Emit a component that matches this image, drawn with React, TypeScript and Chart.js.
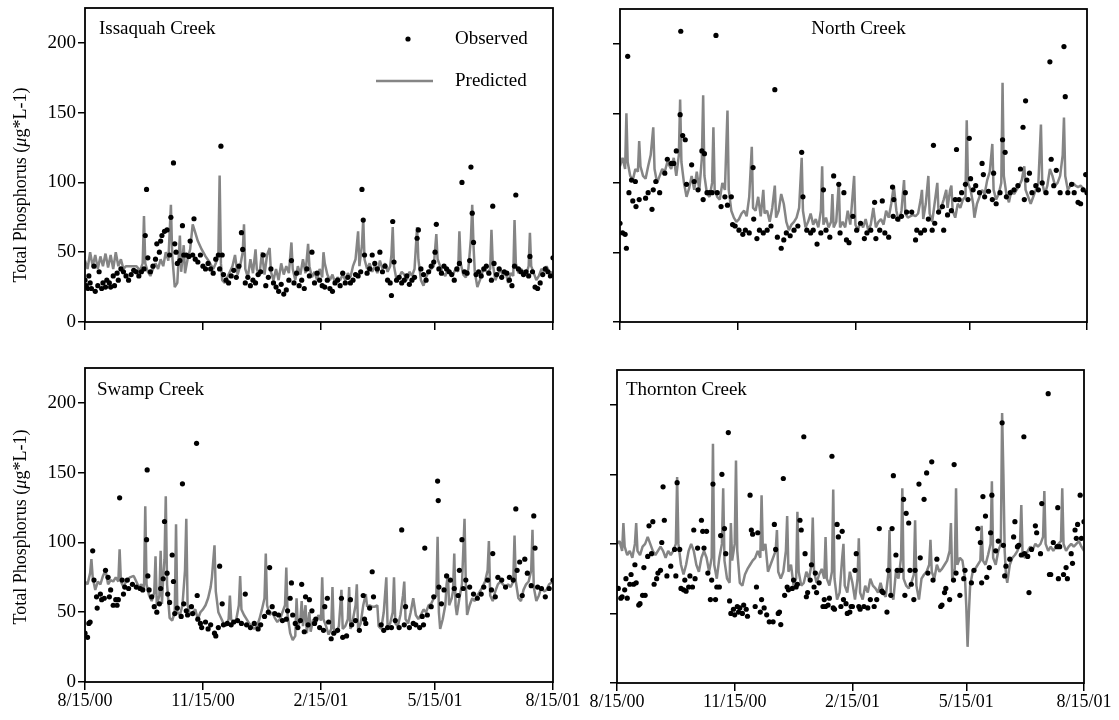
import React, { useEffect, useRef } from 'react';
import { Chart, registerables } from 'chart.js';

Chart.register(...registerables);

// ---------- axes ----------
const tickDays = [0, 92, 184, 273, 365];
const tickLabels = ['8/15/00', '11/15/00', '2/15/01', '5/15/01', '8/15/01'];
const yTicks = [0, 50, 100, 150, 200];
const panelNames = ['Issaquah Creek', 'North Creek', 'Swamp Creek', 'Thornton Creek'];
const seriesNames = ['Observed', 'Predicted'];
const yTitleParts = ['Total Phosphorus (', 'μ', 'g*L-1)'];

// ---------- data: [day since 8/15/00, µg/L] ----------
const issaquahObserved = [
  [0,30],[1,26],[2,24],[3,33],[4,28],[5,24],[7,40],[8,22],[10,26],[11,36],[13,24],[14,28],[16,25],[17,30],[19,28],[20,25],[22,33],[23,26],[25,35],[26,30],[28,38],[30,36],[32,33],[34,30],[36,34],[38,37],[40,36],[42,33],[44,36],[46,38],[47,62],[48,95],[49,46],[51,36],[53,40],[55,45],[56,56],[58,50],[59,58],[60,62],[62,65],[64,66],[66,48],[67,75],[69,114],[70,56],[71,50],[72,42],[74,44],[76,69],[77,48],[79,48],[81,47],[82,58],[84,48],[85,74],[86,45],[88,43],[90,48],[92,40],[94,38],[96,42],[98,38],[100,35],[102,45],[104,48],[105,38],[106,126],[107,48],[108,34],[110,30],[112,28],[114,33],[116,37],[118,32],[120,40],[122,64],[123,52],[125,28],[127,32],[129,26],[131,30],[133,28],[135,34],[137,36],[139,48],[141,26],[143,32],[145,38],[147,28],[149,25],[151,22],[153,27],[155,20],[157,23],[159,30],[161,44],[163,28],[165,35],[167,26],[169,30],[171,24],[173,38],[175,33],[177,50],[179,28],[181,35],[183,30],[185,26],[187,25],[189,30],[191,24],[193,22],[195,28],[197,30],[199,26],[201,35],[203,28],[205,32],[207,28],[209,30],[211,34],[213,33],[215,36],[216,95],[217,73],[218,48],[220,35],[222,38],[224,48],[226,42],[228,38],[230,50],[232,36],[234,40],[236,30],[238,28],[239,19],[240,72],[241,43],[243,30],[245,32],[247,28],[249,30],[251,33],[253,27],[255,30],[257,32],[259,60],[260,66],[262,38],[264,34],[266,30],[268,36],[270,40],[272,43],[273,50],[274,70],[276,38],[278,35],[280,40],[282,38],[284,36],[286,34],[288,30],[290,38],[292,42],[294,100],[296,36],[298,35],[300,44],[301,111],[302,78],[303,57],[305,34],[307,36],[309,33],[311,38],[313,40],[315,35],[317,30],[318,83],[319,42],[321,34],[323,38],[325,32],[327,36],[329,35],[331,30],[333,26],[335,40],[336,91],[338,38],[340,36],[342,34],[344,36],[346,33],[347,47],[349,36],[351,25],[353,24],[355,28],[357,34],[359,38],[361,36],[363,33],[365,46]
];
const issaquahPredicted = [
  [0,44],[2,38],[4,50],[6,40],[8,48],[10,38],[12,47],[14,40],[16,49],[18,39],[20,48],[22,38],[24,50],[26,40],[28,45],[30,38],[32,40],[36,40],[40,40],[43,37],[45,42],[46,76],[47,42],[49,36],[51,33],[53,38],[55,42],[57,38],[59,45],[61,40],[63,50],[65,44],[67,84],[68,48],[70,25],[72,28],[73,45],[74,62],[75,36],[77,55],[78,35],[80,45],[82,52],[84,70],[86,64],[88,58],[91,52],[94,47],[97,43],[100,38],[102,42],[104,48],[105,105],[106,42],[107,30],[109,28],[111,32],[113,36],[115,40],[117,48],[119,34],[121,40],[123,50],[124,70],[125,38],[127,32],[129,45],[131,35],[133,52],[134,38],[136,33],[138,50],[140,34],[142,48],[144,53],[145,36],[147,30],[149,38],[151,30],[153,42],[155,34],[157,40],[159,35],[161,57],[162,38],[164,30],[166,40],[168,34],[170,45],[172,35],[174,56],[175,40],[177,32],[179,36],[181,30],[183,38],[185,32],[186,50],[187,42],[189,34],[191,30],[193,34],[195,28],[197,32],[199,30],[201,34],[203,30],[205,35],[207,32],[209,40],[211,45],[213,65],[214,40],[216,55],[217,74],[218,45],[220,38],[222,42],[224,36],[226,40],[228,35],[230,44],[232,38],[234,42],[236,36],[238,40],[239,48],[240,68],[241,40],[243,30],[245,32],[247,36],[249,34],[251,30],[253,36],[255,33],[257,38],[259,68],[260,45],[262,30],[264,26],[266,32],[268,36],[270,38],[272,40],[274,63],[275,45],[277,40],[279,35],[281,33],[283,38],[285,36],[287,34],[289,38],[291,36],[292,65],[293,42],[295,34],[297,32],[299,38],[301,60],[302,84],[303,55],[304,36],[306,25],[308,30],[310,36],[312,38],[314,35],[316,38],[317,66],[318,42],[320,30],[322,34],[324,38],[326,33],[328,36],[330,28],[332,35],[334,33],[335,73],[336,42],[338,35],[340,38],[342,36],[344,34],[346,40],[347,64],[348,40],[350,35],[352,30],[354,33],[356,38],[358,36],[360,40],[362,36],[365,35]
];

const northObserved = [
  [0,71],[2,64],[4,63],[5,53],[6,191],[7,93],[9,102],[10,87],[12,101],[12.5,83],[15,88],[20,89],[22,93],[25,81],[26,95],[28,101],[31,93],[35,107],[37,117],[40,114],[42,114],[44,123],[47,149],[47.5,209],[49,134],[51,131],[52,99],[56,113],[58,101],[61,95],[64,123],[65,88],[66,121],[68,93],[70,93],[72,93],[75,206],[76,93],[79,83],[82,90],[84,84],[87,90],[88,70],[90,69],[93,66],[96,63],[98,66],[101,64],[104,111],[104.5,74],[107,60],[109,66],[112,64],[115,66],[118,69],[121,167],[123,61],[126,53],[128,59],[130,64],[133,62],[136,66],[139,69],[142,122],[143,90],[146,66],[149,64],[151,66],[154,56],[157,64],[159,95],[161,66],[164,61],[167,105],[171,99],[172,64],[175,93],[177,59],[179,57],[182,76],[185,66],[188,71],[191,60],[193,64],[196,66],[199,86],[200,60],[203,66],[205,87],[207,64],[210,61],[213,97],[213.5,76],[214,88],[217,74],[220,76],[223,93],[224,79],[228,79],[231,59],[232,66],[235,64],[238,66],[241,74],[244,66],[245,127],[246,71],[249,79],[252,83],[253,66],[256,77],[259,80],[262,88],[263,124],[265,88],[267,93],[270,99],[272,88],[273,132],[274,103],[276,95],[278,98],[281,93],[283,114],[284,106],[285,90],[288,94],[291,88],[292,107],[294,85],[297,93],[299,131],[301,122],[302,90],[305,93],[308,95],[311,98],[313,110],[315,140],[316,88],[317,159],[318,102],[320,107],[322,93],[325,98],[327,95],[330,100],[333,93],[336,187],[337,117],[339,98],[341,109],[344,93],[347,198],[348,162],[350,93],[353,99],[355,93],[358,86],[360,85],[362,95],[364,106],[365,93]
];
const northPredicted = [
  [0,112],[2,118],[4,110],[5,150],[6,115],[8,105],[10,102],[12,110],[14,108],[15,130],[16,112],[18,105],[20,103],[22,112],[24,120],[26,140],[27,110],[29,100],[31,105],[33,110],[35,108],[37,115],[40,110],[42,118],[44,105],[46,120],[47,160],[48,115],[50,100],[52,90],[54,96],[56,105],[58,95],[60,108],[62,95],[64,118],[65,163],[66,105],[68,92],[70,90],[72,100],[73,140],[74,95],[76,90],[78,88],[80,100],[82,95],[84,152],[85,95],[87,80],[89,75],[91,72],[93,74],[95,78],[97,80],[99,76],[101,90],[103,126],[104,82],[106,80],[108,90],[110,76],[112,95],[113,78],[115,80],[117,72],[119,82],[121,98],[122,75],[124,80],[126,92],[128,85],[130,72],[132,66],[134,70],[136,72],[138,75],[140,82],[142,118],[143,80],[145,68],[147,72],[149,78],[151,70],[153,74],[155,68],[157,80],[158,112],[159,70],[161,75],[163,68],[165,72],[166,92],[167,68],[169,72],[171,100],[172,68],[174,72],[176,68],[178,80],[180,70],[183,105],[184,70],[186,66],[188,72],[190,68],[192,74],[194,66],[196,70],[198,82],[200,68],[202,72],[204,74],[206,70],[208,80],[210,75],[212,85],[214,98],[216,80],[218,72],[220,80],[222,102],[223,78],[225,75],[227,76],[229,77],[231,76],[233,78],[235,88],[236,95],[237,74],[239,85],[241,105],[242,78],[244,72],[246,86],[248,100],[249,78],[251,82],[253,88],[255,95],[256,82],[258,95],[259,98],[260,80],[262,75],[264,85],[266,82],[268,88],[270,90],[271,145],[272,100],[274,95],[276,85],[277,75],[279,85],[281,90],[283,95],[285,92],[287,102],[289,108],[291,128],[292,95],[294,88],[296,92],[298,100],[299,172],[300,105],[302,92],[304,86],[306,95],[308,92],[310,95],[312,98],[314,102],[316,112],[317,95],[319,90],[321,85],[323,90],[325,95],[327,100],[329,142],[330,100],[332,92],[334,98],[336,110],[338,105],[340,98],[342,100],[344,105],[346,120],[347,147],[348,105],[350,95],[352,98],[354,100],[356,98],[358,97],[360,98],[362,96],[365,92]
];

const swampObserved = [
  [0,35],[2,32],[3,42],[4,43],[6,94],[7,73],[9,61],[9.5,53],[12,63],[13,59],[15,60],[16,80],[18,75],[19,61],[20,66],[22,55],[24,59],[25,55],[26,59],[27,132],[29,73],[30,63],[31,68],[33,73],[34,67],[37,70],[40,68],[43,67],[45,66],[48,102],[48.5,152],[49,76],[50,66],[52,61],[54,54],[56,50],[58,56],[59,67],[61,74],[62,115],[64,78],[64.5,63],[66,57],[68,91],[69,72],[70,49],[72,53],[75,47],[76,142],[77,56],[79,51],[80,48],[83,54],[84,49],[87,171],[87.5,62],[88,45],[90,42],[91,39],[94,43],[96,38],[98,41],[101,35],[102,33],[104,39],[105,83],[107,56],[108,41],[111,42],[114,41],[116,43],[119,44],[122,42],[125,63],[126,41],[129,39],[132,42],[135,38],[137,41],[140,47],[143,50],[144,82],[146,54],[148,49],[151,48],[154,44],[157,45],[158,51],[160,60],[161,71],[162,48],[164,42],[166,39],[168,44],[169,70],[171,36],[172,61],[174,41],[175,59],[177,51],[179,42],[180,45],[183,39],[186,37],[187,54],[189,60],[190,43],[192,31],[194,35],[197,37],[200,60],[201,32],[204,33],[207,59],[208,41],[211,44],[214,37],[217,62],[218,45],[219,42],[222,53],[224,79],[225,61],[231,41],[233,37],[236,39],[239,39],[242,44],[245,39],[247,109],[249,41],[250,54],[253,39],[256,42],[258,41],[261,39],[263,47],[264,41],[265,96],[267,48],[270,54],[272,61],[275,144],[275.5,130],[276,68],[278,56],[280,66],[282,76],[285,73],[288,67],[291,62],[292,80],[294,102],[295,67],[297,73],[300,68],[303,63],[306,60],[309,63],[311,68],[314,73],[317,66],[318,92],[320,61],[322,75],[325,73],[328,68],[331,75],[334,73],[336,124],[337,80],[339,86],[341,62],[343,88],[345,78],[348,69],[350,119],[351,96],[353,68],[356,67],[359,61],[362,67],[365,73]
];
const swampPredicted = [
  [0,72],[2,70],[4,78],[5,88],[6,75],[8,66],[10,72],[12,70],[14,76],[16,80],[18,70],[20,73],[22,72],[24,75],[26,72],[27,95],[28,72],[30,68],[32,72],[35,75],[38,76],[40,72],[42,68],[44,70],[46,66],[47,126],[48,70],[50,62],[52,58],[54,64],[55,90],[56,55],[58,62],[59,94],[60,56],[61,75],[62,88],[63,133],[64,70],[66,46],[68,44],[70,50],[71,113],[72,50],[74,48],[76,55],[78,80],[79,117],[80,55],[82,48],[84,50],[86,52],[88,45],[90,50],[92,52],[94,55],[96,60],[98,68],[99,75],[101,98],[102,65],[104,50],[106,46],[108,42],[110,40],[112,45],[113,62],[114,45],[116,42],[118,45],[120,55],[121,76],[122,52],[124,48],[126,45],[128,42],[130,40],[132,38],[134,40],[136,45],[138,52],[140,60],[141,92],[142,55],[144,48],[146,50],[148,46],[150,43],[152,45],[154,50],[156,55],[157,82],[158,48],[160,35],[162,30],[164,33],[165,60],[166,40],[168,45],[169,58],[170,40],[172,55],[173,35],[175,50],[176,36],[178,45],[180,42],[182,48],[184,44],[185,75],[186,45],[188,40],[190,34],[192,38],[193,68],[194,38],[196,35],[198,40],[200,66],[201,38],[203,40],[205,45],[206,68],[207,38],[209,45],[211,55],[212,70],[213,38],[215,42],[217,55],[219,63],[220,54],[222,55],[224,54],[226,54],[228,55],[229,40],[231,38],[233,50],[235,75],[236,40],[238,42],[240,50],[241,75],[242,42],[244,40],[246,48],[248,62],[249,72],[250,45],[252,42],[254,50],[256,60],[258,48],[260,45],[262,48],[264,52],[266,50],[268,55],[270,56],[272,60],[274,62],[275,104],[276,50],[277,38],[279,45],[281,55],[282,70],[283,77],[284,55],[286,60],[287,65],[288,92],[289,55],[290,48],[292,60],[294,70],[296,117],[297,70],[298,48],[300,55],[302,60],[304,58],[306,62],[308,65],[310,68],[312,72],[314,80],[315,101],[316,62],[318,58],[320,65],[322,70],[324,72],[326,70],[328,68],[330,70],[332,68],[334,72],[335,105],[336,72],[338,60],[340,58],[342,66],[344,70],[346,72],[348,80],[349,109],[350,68],[352,58],[354,62],[356,68],[358,65],[360,66],[362,70],[365,72]
];

const thorntonObserved = [
  [1,68],[3,61],[4,62],[6,67],[7,75],[8,61],[10,71],[11,78],[13,71],[14,85],[15,72],[17,56],[18,57],[20,63],[21,83],[22,63],[24,91],[25,113],[27,93],[28,116],[29,71],[31,75],[32,79],[34,81],[35,101],[36,141],[37,117],[39,77],[42,84],[45,96],[46,77],[47,144],[49,96],[50,68],[52,67],[53,74],[54,66],[56,69],[57,77],[59,69],[60,110],[61,75],[63,97],[66,117],[67,109],[68,97],[70,109],[71,79],[73,60],[74,74],[75,143],[77,60],[78,69],[80,69],[81,106],[82,150],[84,111],[85,93],[87,180],[88,59],[89,50],[91,53],[92,49],[94,55],[95,51],[96,54],[98,50],[99,56],[101,53],[102,48],[104,135],[105,110],[106,107],[108,55],[109,69],[110,108],[112,51],[113,60],[115,54],[117,49],[119,44],[122,44],[123,114],[124,96],[126,50],[127,51],[128,42],[130,147],[131,63],[133,69],[134,67],[137,68],[138,74],[140,69],[141,71],[143,117],[144,110],[146,177],[147,93],[148,62],[149,65],[151,74],[152,85],[154,69],[155,79],[156,65],[158,72],[161,55],[162,60],[163,55],[165,56],[166,61],[168,163],[169,54],[170,53],[172,114],[173,105],[175,55],[176,109],[177,60],[179,57],[180,50],[182,51],[183,55],[184,55],[186,81],[187,93],[189,55],[190,53],[193,55],[196,54],[198,60],[201,55],[203,60],[205,111],[207,66],[208,65],[211,51],[212,81],[214,63],[215,111],[216,149],[218,92],[219,81],[222,81],[224,132],[225,63],[226,122],[228,115],[229,81],[230,71],[232,60],[233,81],[236,143],[237,90],[240,132],[242,151],[243,79],[246,159],[247,74],[250,89],[253,55],[254,56],[256,65],[257,68],[260,60],[263,74],[263.5,157],[265,79],[268,63],[271,75],[272,81],[277,72],[279,81],[282,111],[284,101],[285,72],[286,134],[288,120],[289,76],[291,83],[292,108],[293,135],[296,95],[298,102],[301,187],[302,99],[303,77],[304,84],[307,89],[310,105],[311,116],[313,98],[314,99],[316,92],[318,177],[318.5,93],[321,91],[322,65],[324,96],[327,113],[328,108],[331,93],[332,129],[337,208],[338,78],[339,78],[341,101],[344,98],[344.5,126],[345,75],[346,98],[349,78],[351,83],[352,75],[355,93],[356,86],[358,110],[359,104],[360,114],[362,135],[363,104],[365,116]
];
const thorntonPredicted = [
  [0,100],[2,102],[4,95],[5,115],[6,98],[8,92],[10,95],[12,90],[14,100],[15,115],[16,95],[18,92],[20,98],[22,100],[24,105],[26,100],[28,95],[30,92],[32,95],[34,98],[36,95],[38,90],[40,95],[42,92],[44,95],[46,100],[47,148],[48,100],[50,85],[52,78],[54,85],[56,95],[58,100],[60,95],[62,85],[64,80],[66,90],[68,95],[70,90],[72,80],[74,90],[75,172],[76,85],[78,75],[80,90],[82,100],[83,140],[84,88],[86,75],[88,72],[89,115],[90,88],[92,100],[93,160],[94,95],[96,72],[98,70],[100,78],[102,82],[104,85],[106,88],[108,90],[110,95],[112,90],[113,135],[114,95],[116,100],[118,80],[120,85],[122,90],[124,95],[125,110],[126,80],[128,75],[130,80],[132,95],[133,120],[134,80],[136,85],[138,70],[140,75],[141,123],[142,80],[144,70],[146,72],[148,80],[150,75],[152,85],[153,119],[154,80],[156,72],[158,78],[160,82],[162,75],[163,105],[164,75],[166,70],[168,80],[169,139],[170,75],[172,60],[174,65],[176,90],[177,100],[178,70],[180,65],[182,80],[184,72],[186,60],[188,75],[189,104],[190,65],[192,60],[194,70],[196,65],[198,75],[200,70],[202,68],[204,65],[206,72],[208,65],[210,62],[212,78],[213,110],[214,65],[216,60],[218,80],[220,75],[222,90],[223,140],[224,75],[226,70],[228,68],[230,72],[232,78],[233,117],[234,70],[236,60],[238,75],[240,78],[242,80],[244,85],[245,103],[246,80],[248,75],[250,85],[252,80],[254,82],[256,85],[258,88],[260,95],[261,115],[262,75],[264,82],[265,140],[266,85],[268,90],[270,88],[272,75],[273,55],[274,26],[275,50],[276,70],[278,80],[280,82],[282,85],[284,88],[285,113],[286,88],[288,85],[290,92],[292,100],[293,145],[294,90],[296,85],[298,95],[300,100],[301,194],[302,150],[303,95],[304,78],[305,72],[307,85],[309,90],[311,92],[313,95],[315,100],[316,128],[317,92],[319,90],[321,95],[323,98],[325,96],[327,100],[329,98],[331,100],[333,105],[334,138],[335,100],[337,95],[339,98],[341,95],[343,98],[345,100],[347,102],[348,140],[349,100],[351,95],[353,98],[355,100],[357,98],[359,100],[361,102],[363,98],[365,95]
];

// ---------- styling ----------
const FONT = '"Liberation Serif", "Times New Roman", serif';
const W = 1119;
const H = 720;

type Panel = {
  name: string;
  observed: number[][];
  predicted: number[][];
  pad: { left: number; top: number; right: number; bottom: number };
  yWidth: number;
  xHeight: number;
  showYLabels: boolean;
  showXLabels: boolean;
  titleAlign: 'left' | 'center';
  titleDx: number;
  titleDy: number;
  legend: boolean;
  yTitleDy: number;
};

const panels: Panel[] = [
  { name: panelNames[0], observed: issaquahObserved, predicted: issaquahPredicted,
    pad: { left: 0, top: 8, right: W - 553, bottom: H - 340 }, yWidth: 85, xHeight: 18,
    showYLabels: true, showXLabels: false, titleAlign: 'left', titleDx: 14, titleDy: 21, legend: true, yTitleDy: 20 },
  { name: panelNames[1], observed: northObserved, predicted: northPredicted,
    pad: { left: 560, top: 9, right: W - 1087, bottom: H - 340 }, yWidth: 60, xHeight: 18,
    showYLabels: false, showXLabels: false, titleAlign: 'center', titleDx: 5, titleDy: 20, legend: false, yTitleDy: 0 },
  { name: panelNames[2], observed: swampObserved, predicted: swampPredicted,
    pad: { left: 0, top: 368, right: W - 553, bottom: 0 }, yWidth: 85, xHeight: 38,
    showYLabels: true, showXLabels: true, titleAlign: 'left', titleDx: 12, titleDy: 22, legend: false, yTitleDy: 2 },
  { name: panelNames[3], observed: thorntonObserved, predicted: thorntonPredicted,
    pad: { left: 560, top: 370, right: W - 1084, bottom: 0 }, yWidth: 57, xHeight: 37,
    showYLabels: false, showXLabels: true, titleAlign: 'left', titleDx: 9, titleDy: 20, legend: false, yTitleDy: 0 },
];

const decorPlugin = {
  id: 'decor',
  afterDraw(chart: any, _args: any, opts: any) {
    const { ctx, chartArea: a } = chart;
    ctx.save();
    ctx.strokeStyle = '#000';
    ctx.lineWidth = 1.8;
    ctx.strokeRect(a.left, a.top, a.right - a.left, a.bottom - a.top);
    ctx.fillStyle = '#000';
    ctx.font = `19px ${FONT}`;
    ctx.textBaseline = 'middle';
    if (opts.titleAlign === 'center') {
      ctx.textAlign = 'center';
      ctx.fillText(opts.title, (a.left + a.right) / 2 + opts.titleDx, a.top + opts.titleDy);
    } else {
      ctx.textAlign = 'left';
      ctx.fillText(opts.title, a.left + opts.titleDx, a.top + opts.titleDy);
    }
    if (opts.legend) {
      const lx = a.left;
      const ly = a.top;
      ctx.beginPath();
      ctx.arc(lx + 323, ly + 31, 2.6, 0, Math.PI * 2);
      ctx.fill();
      ctx.textAlign = 'left';
      ctx.fillText(seriesNames[0], lx + 370, ly + 31);
      ctx.strokeStyle = '#858585';
      ctx.lineWidth = 2.5;
      ctx.beginPath();
      ctx.moveTo(lx + 291, ly + 73);
      ctx.lineTo(lx + 348, ly + 73);
      ctx.stroke();
      ctx.fillText(seriesNames[1], lx + 370, ly + 73);
    }
    if (opts.yTitle) {
      const cy = (a.top + a.bottom) / 2 + opts.yTitleDy;
      ctx.translate(21, cy);
      ctx.rotate(-Math.PI / 2);
      const fN = `18px ${FONT}`;
      const fI = `italic 18px ${FONT}`;
      ctx.font = fN;
      const w0 = ctx.measureText(yTitleParts[0]).width;
      const w2 = ctx.measureText(yTitleParts[2]).width;
      ctx.font = fI;
      const w1 = ctx.measureText(yTitleParts[1]).width;
      let x = -(w0 + w1 + w2) / 2;
      ctx.textAlign = 'left';
      ctx.font = fN;
      ctx.fillText(yTitleParts[0], x, 0);
      x += w0;
      ctx.font = fI;
      ctx.fillText(yTitleParts[1], x, 0);
      x += w1;
      ctx.font = fN;
      ctx.fillText(yTitleParts[2], x, 0);
    }
    ctx.restore();
  },
};

function PanelChart({ p }: { p: Panel }) {
  const ref = useRef<HTMLCanvasElement | null>(null);
  useEffect(() => {
    if (!ref.current) return;
    const toXY = (arr: number[][]) => arr.map(([x, y]) => ({ x, y }));
    const chart = new Chart(ref.current, {
      type: 'scatter',
      data: {
        datasets: [
          {
            label: seriesNames[0],
            data: toXY(p.observed),
            pointRadius: 2.6,
            pointBackgroundColor: '#000',
            pointBorderWidth: 0,
            showLine: false,
          },
          {
            label: seriesNames[1],
            data: toXY(p.predicted),
            showLine: true,
            pointRadius: 0,
            borderColor: '#858585',
            borderWidth: 2.5,
            borderJoinStyle: 'bevel',
            tension: 0,
          },
        ],
      } as any,
      options: {
        animation: false,
        responsive: false,
        maintainAspectRatio: false,
        events: [],
        layout: { padding: p.pad },
        plugins: {
          legend: { display: false },
          tooltip: { enabled: false },
          decor: {
            title: p.name,
            titleAlign: p.titleAlign,
            titleDx: p.titleDx,
            titleDy: p.titleDy,
            legend: p.legend,
            yTitle: p.showYLabels,
            yTitleDy: p.yTitleDy,
          },
        } as any,
        scales: {
          x: {
            type: 'linear',
            min: 0,
            max: 365,
            afterBuildTicks: (s: any) => {
              s.ticks = tickDays.map((v) => ({ value: v }));
            },
            afterFit: (s: any) => {
              s.height = p.xHeight;
              s.paddingLeft = 0;
              s.paddingRight = 0;
            },
            ticks: {
              display: p.showXLabels,
              autoSkip: false,
              maxRotation: 0,
              padding: 0,
              color: '#000',
              font: { family: FONT, size: 18 },
              callback: (v: any) => tickLabels[tickDays.indexOf(Number(v))],
            },
            grid: { drawOnChartArea: false, drawTicks: true, tickLength: 8, color: '#000', lineWidth: 1.5 },
            border: { display: false },
          },
          y: {
            type: 'linear',
            min: 0,
            max: 225,
            afterBuildTicks: (s: any) => {
              s.ticks = yTicks.map((v) => ({ value: v }));
            },
            afterFit: (s: any) => {
              s.width = p.yWidth;
              s.paddingTop = 0;
              s.paddingBottom = 0;
            },
            ticks: {
              display: p.showYLabels,
              padding: 2,
              color: '#000',
              font: { family: FONT, size: 19 },
              callback: (v: any) => String(v),
            },
            grid: { drawOnChartArea: false, drawTicks: true, tickLength: 7, color: '#000', lineWidth: 1.5 },
            border: { display: false },
          },
        },
      } as any,
      plugins: [decorPlugin as any],
    });
    return () => chart.destroy();
  }, [p]);
  return (
    <canvas
      ref={ref}
      width={W}
      height={H}
      style={{ position: 'absolute', left: 0, top: 0, width: W, height: H }}
    />
  );
}

export default function App() {
  return (
    <div style={{ position: 'absolute', left: 0, top: 0, width: W, height: H, background: '#fff', overflow: 'hidden' }}>
      {panels.map((p) => (
        <PanelChart key={p.name} p={p} />
      ))}
    </div>
  );
}
